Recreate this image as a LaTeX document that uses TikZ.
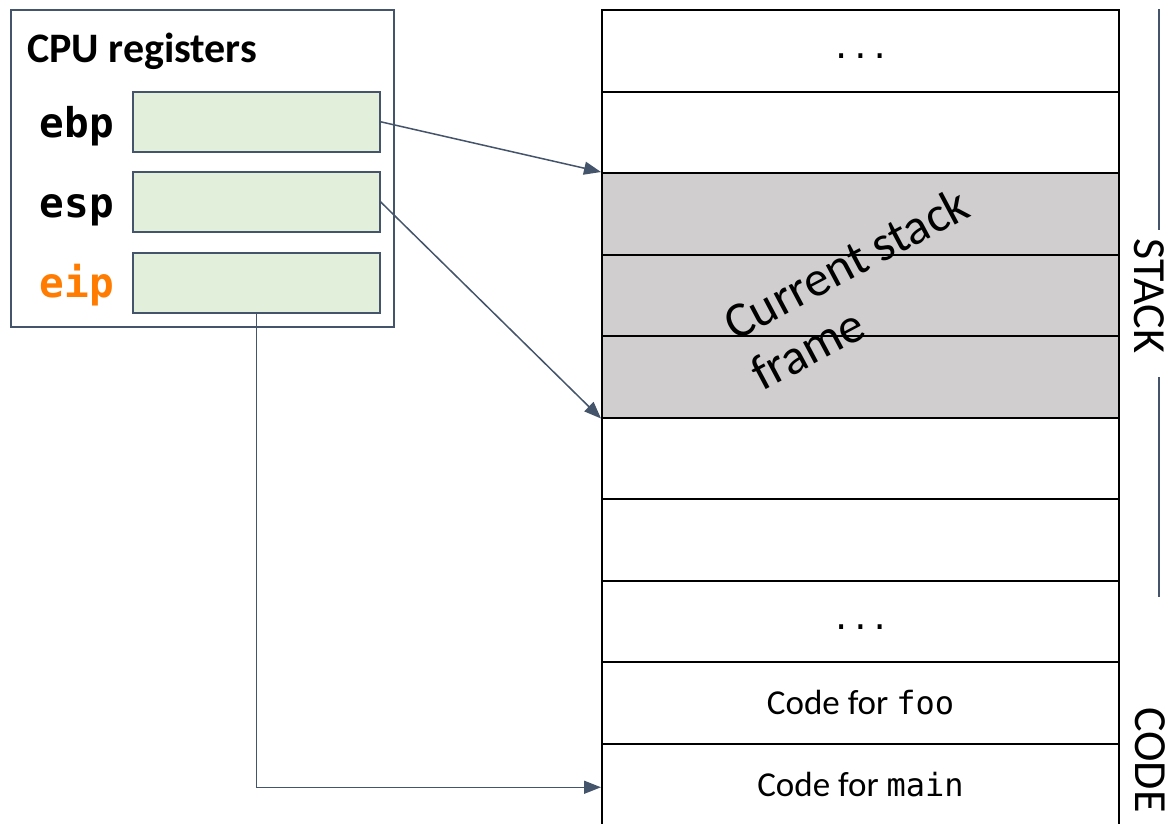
\documentclass[tikz,border=0pt]{standalone}
\usepackage{fontspec}
\setmainfont{Carlito}
\newfontfamily\regmono{DejaVu Sans Mono}
\usetikzlibrary{arrows.meta}
\definecolor{slate}{HTML}{44546A}
\definecolor{reggreen}{HTML}{E2EFDA}
\definecolor{framegray}{HTML}{D0CECE}
\definecolor{eiporange}{HTML}{FF7C00}
\newcommand{\stackdots}{\raisebox{-8pt}[0pt][0pt]{\regmono\fontsize{32}{38}\selectfont ...}}
\begin{document}
\begin{tikzpicture}[x=1pt,y=-1pt,
 row/.style={draw=black,line width=2pt,minimum width=517pt,minimum height=81.5pt,inner sep=0pt,anchor=north west,font=\fontsize{35}{42}\selectfont},
 grayrow/.style={row,fill=framegray},
 regbox/.style={draw=slate,line width=1.5pt,fill=reggreen,minimum width=247pt,minimum height=60pt,inner sep=0pt,anchor=north west},
 reglabel/.style={anchor=base east,inner sep=0pt,font=\regmono\bfseries\fontsize{41}{48}\selectfont},
 ptr/.style={draw=slate,line width=1.5pt,-{Triangle[length=17pt,width=13pt]}},
 sidelabel/.style={rotate=-90,inner sep=0pt,font=\fontsize{46}{55}\selectfont},
 sideline/.style={draw=slate,line width=1.5pt}]
\clip (0,0) rectangle (1172,823);
\fill[white] (0,0) rectangle (1172,823);
% stack column
\node[row] (r1) at (601,9) {\stackdots};
\node[row] (r2) at (601,90.5) {};
\node[grayrow] (r3) at (601,172) {};
\node[grayrow] (r4) at (601,253.5) {};
\node[grayrow] (r5) at (601,335) {};
\node[row] (r6) at (601,416.5) {};
\node[row] (r7) at (601,498) {};
\node[row] (r8) at (601,579.5) {\stackdots};
\node[row] (r9) at (601,661) {Code for {\regmono\fontsize{32}{38}\selectfont foo}};
\node[row] (r10) at (601,742.5) {Code for {\regmono\fontsize{32}{38}\selectfont main}};
\node[rotate=28,anchor=base west,align=left,inner sep=0pt,font=\fontsize{50}{57}\selectfont] (frame) at (762,392) {Current stack\\frame};
% registers panel
\node[draw=slate,line width=1.5pt,minimum width=383pt,minimum height=317pt,anchor=north west,inner sep=0pt] (cpu) at (10,9) {};
\node[anchor=base west,inner sep=0pt,font=\bfseries\fontsize{42}{50}\selectfont] (title) at (27,62) {CPU registers};
\node[regbox] (ebpbox) at (132,91) {};
\node[regbox] (espbox) at (132,171) {};
\node[regbox] (eipbox) at (132,252) {};
\node[reglabel] (ebp) at (114,137) {ebp};
\node[reglabel] (esp) at (114,217) {esp};
\node[reglabel,text=eiporange] (eip) at (114,297) {eip};
% pointers
\draw[ptr] (ebpbox.east) -- (r3.north west);
\draw[ptr] (espbox.east) -- (r5.south west);
\draw[ptr] (eipbox.south) |- ([yshift=-3pt]r10.west);
% side labels
\node[sidelabel] (stack) at (1149,296) {STACK};
\node[sidelabel] (code) at (1150,760) {CODE};
\coordinate (sa) at (1159,9);
\coordinate (sb) at (1159,230);
\coordinate (sc) at (1159,377);
\coordinate (sd) at (1159,597);
\draw[sideline] (sa) -- (sb);
\draw[sideline] (sc) -- (sd);
\end{tikzpicture}
\end{document}
